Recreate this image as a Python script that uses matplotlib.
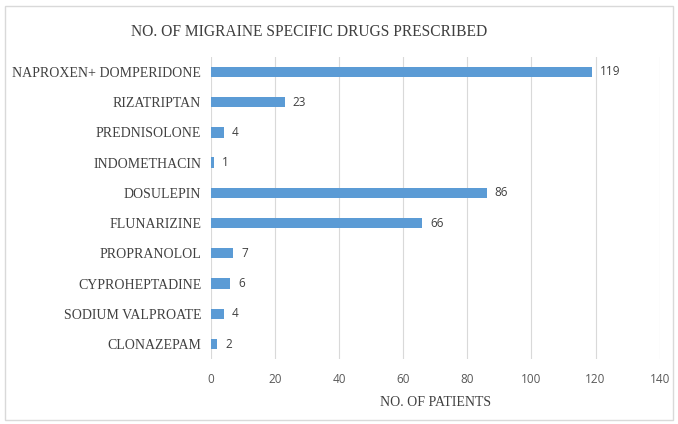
import matplotlib.pyplot as plt
from matplotlib.patches import Rectangle

drugs = ['NAPROXEN+ DOMPERIDONE', 'RIZATRIPTAN', 'PREDNISOLONE', 'INDOMETHACIN',
         'DOSULEPIN', 'FLUNARIZINE', 'PROPRANOLOL', 'CYPROHEPTADINE',
         'SODIUM VALPROATE', 'CLONAZEPAM']
patients = [119, 23, 4, 1, 86, 66, 7, 6, 4, 2]
xticks = [0, 20, 40, 60, 80, 100, 120, 140]

fig = plt.figure(figsize=(6.78, 4.24), dpi=100)
ax = fig.add_axes([0.311, 0.153, 0.662, 0.713])

y = list(range(len(drugs)))[::-1]
ax.barh(y, patients, height=0.34, color='#5B9BD5', zorder=3)
for yi, v in zip(y, patients):
    ax.text(v + 2.5, yi, str(v), va='center', ha='left', fontsize=8.5,
            color='#404040', family='Open Sans')

ax.set_xlim(0, 140)
ax.set_ylim(-0.5, len(drugs) - 0.5)
ax.set_xticks(xticks)
ax.set_xticklabels([str(t) for t in xticks], family='Open Sans', fontsize=8.5, color='#595959')
ax.set_yticks(y)
ax.set_yticklabels(drugs, family='Liberation Serif', fontsize=10, color='#404040')
ax.tick_params(axis='x', length=0, pad=10)
ax.tick_params(axis='y', length=0, pad=7)
ax.grid(axis='x', color='#D9D9D9', linewidth=0.8, zorder=0)
for s in ax.spines.values():
    s.set_visible(False)

ax.set_xlabel('NO. OF PATIENTS', family='Liberation Serif', fontsize=10, color='#404040', labelpad=7)
fig.text(0.456, 0.925, 'NO. OF MIGRAINE SPECIFIC DRUGS PRESCRIBED', ha='center', va='center',
         family='Liberation Serif', fontsize=11.2, color='#404040')

fig.patches.append(Rectangle((0.008, 0.01), 0.985, 0.975, transform=fig.transFigure,
                             fill=False, edgecolor='#D9D9D9', linewidth=1))

fig.savefig('out.png', dpi=100)
